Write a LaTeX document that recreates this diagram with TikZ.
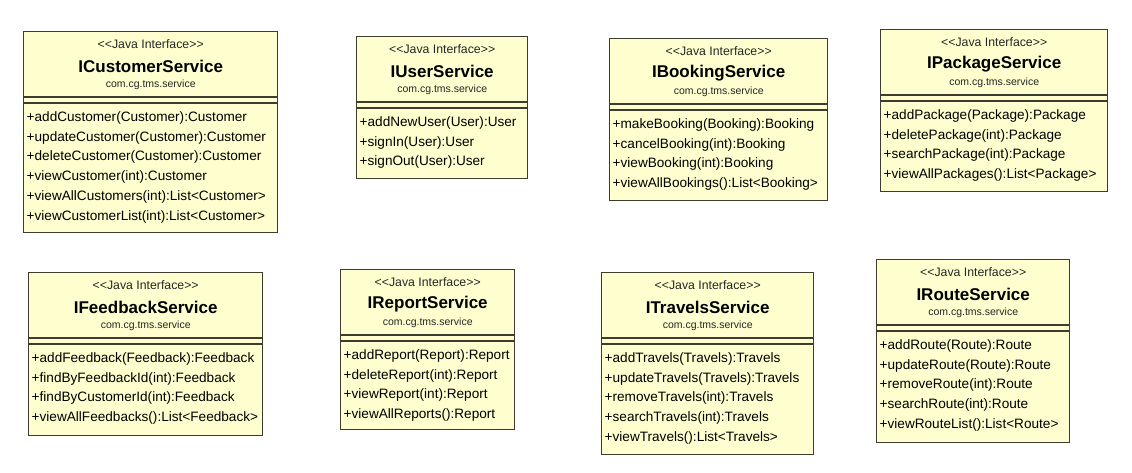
\documentclass[tikz,border=0pt]{standalone}
\usepackage{fontspec}
\setmainfont{Liberation Sans}
\definecolor{boxfill}{HTML}{FEFECE}
\definecolor{boxline}{HTML}{3C3C30}
\tikzset{
  box/.style={draw=boxline, fill=boxfill, line width=1.4pt, rectangle, inner sep=0pt},
  stereo/.style={font=\fontsize{12.3}{14}\selectfont, inner sep=0pt, text=black!85},
  cname/.style={font=\fontsize{17}{19}\selectfont\bfseries, inner sep=0pt},
  pkg/.style={font=\fontsize{10.5}{12}\selectfont, inner sep=0pt, text=black!85},
  meth/.style={font=\fontsize{13.6}{15}\selectfont, inner sep=0pt, anchor=west},
  sepline/.style={draw=boxline, line width=1.4pt}
}
\newcommand\iface[7]{%
  \node[box, minimum width=#4pt, minimum height=#5pt, anchor=north west] (#1) at (#2,#3) {};
  \node[stereo] (#1-st) at ([yshift=-13pt]#1.north) {<\kern0pt<Java Interface>\kern0pt>};
  \node[cname] (#1-nm) at ([yshift=-35pt]#1.north) {#6};
  \node[pkg] (#1-pk) at ([yshift=-54pt]#1.north) {com.cg.tms.service};
  \draw[sepline] ([yshift=-66pt]#1.north west) -- ([yshift=-66pt]#1.north east);
  \draw[sepline] ([yshift=-72pt]#1.north west) -- ([yshift=-72pt]#1.north east);
  \foreach \m [count=\i] in {#7}
    \node[meth] (#1-m\i) at ([xshift=3.5pt,yshift={-87pt-(\i-1)*19.7pt}]#1.north west) {\m};
}
\begin{document}
\begin{tikzpicture}[x=1pt,y=-1pt]
\useasboundingbox[fill=white] (0,0) rectangle (1132,473);
\iface{cust}{23}{31}{254}{201}{ICustomerService}{%
  +addCustomer(Customer):Customer,
  +updateCustomer(Customer):Customer,
  +deleteCustomer(Customer):Customer,
  +viewCustomer(int):Customer,
  +viewAllCustomers(int):List<Customer>,
  +viewCustomerList(int):List<Customer>}
\iface{user}{356}{36}{171}{142}{IUserService}{%
  +addNewUser(User):User,
  +signIn(User):User,
  +signOut(User):User}
\iface{book}{609}{38}{218}{162}{IBookingService}{%
  +makeBooking(Booking):Booking,
  +cancelBooking(int):Booking,
  +viewBooking(int):Booking,
  +viewAllBookings():List<Booking>}
\iface{pack}{880}{29}{227}{162}{IPackageService}{%
  +addPackage(Package):Package,
  +deletePackage(int):Package,
  +searchPackage(int):Package,
  +viewAllPackages():List<Package>}
\iface{feed}{28}{272}{234}{163}{IFeedbackService}{%
  +addFeedback(Feedback):Feedback,
  +findByFeedbackId(int):Feedback,
  +findByCustomerId(int):Feedback,
  +viewAllFeedbacks():List<Feedback>}
\iface{rept}{340}{269}{174}{160}{IReportService}{%
  +addReport(Report):Report,
  +deleteReport(int):Report,
  +viewReport(int):Report,
  +viewAllReports():Report}
\iface{trav}{601}{272}{212}{182}{ITravelsService}{%
  +addTravels(Travels):Travels,
  +updateTravels(Travels):Travels,
  +removeTravels(int):Travels,
  +searchTravels(int):Travels,
  +viewTravels():List<Travels>}
\iface{rout}{876}{259}{193}{183}{IRouteService}{%
  +addRoute(Route):Route,
  +updateRoute(Route):Route,
  +removeRoute(int):Route,
  +searchRoute(int):Route,
  +viewRouteList():List<Route>}
\end{tikzpicture}
\end{document}
